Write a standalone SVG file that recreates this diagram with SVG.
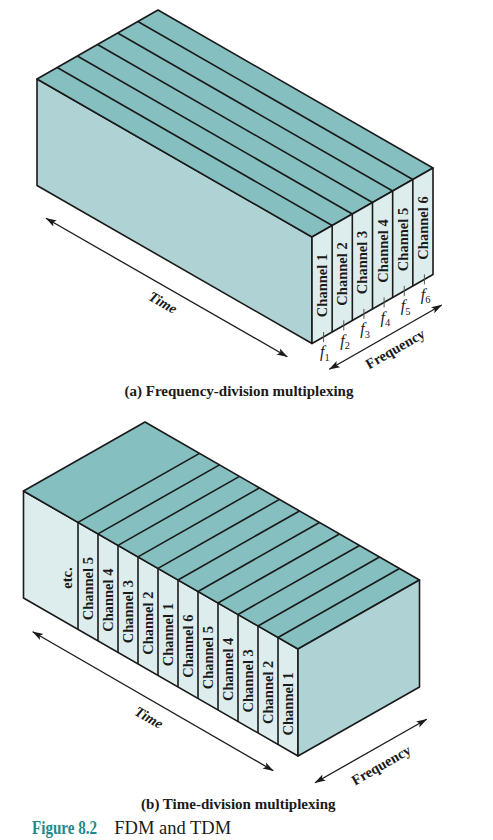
<svg xmlns="http://www.w3.org/2000/svg" width="493" height="840" viewBox="0 0 493 840">
<defs>
<style>
.top{fill:#85bfc0;stroke:#1a1a1a;stroke-width:1.6;stroke-linejoin:round}
.side{fill:#afd3d4;stroke:#1a1a1a;stroke-width:1.6;stroke-linejoin:round}
.light{fill:#ddeded;stroke:#1a1a1a;stroke-width:1.6;stroke-linejoin:round}
.ln{stroke:#1a1a1a;stroke-width:1.6;fill:none}
.tick{stroke:#555;stroke-width:1;fill:none}
.ch{font-family:"Liberation Serif","Times New Roman",serif;font-weight:bold;font-size:14.5px;fill:#1a1a1a;text-anchor:middle}
.ax{font-family:"Liberation Serif","Times New Roman",serif;font-weight:bold;font-size:14.5px;fill:#1a1a1a;text-anchor:middle}
.fl{font-family:"Liberation Serif","Times New Roman",serif;font-style:italic;font-size:16px;fill:#1a1a1a}
.cap{font-family:"Liberation Serif","Times New Roman",serif;font-weight:bold;font-size:15px;fill:#1a1a1a;text-anchor:middle}
.arr{stroke:#1a1a1a;stroke-width:1.3;fill:none;marker-start:url(#ah);marker-end:url(#ah)}
</style>
<marker id="ah" viewBox="0 0 11 8" refX="10.5" refY="4" markerWidth="11" markerHeight="8" markerUnits="userSpaceOnUse" orient="auto-start-reverse">
<path d="M0,0.5 L11,4 L0,7.5 L2.5,4 z" fill="#1a1a1a"/>
</marker>
</defs>

<g id="fdm-box">
<polygon class="side" points="37,79 312,237 312,343.5 37,185.5"/>
<polygon class="top" points="37,79 158,10 433,168 312,237"/>
<polygon class="light" points="312,237 433,168 433,274.5 312,343.5"/>
<g class="ln">
<line x1="332.17" y1="225.5" x2="57.17" y2="67.5"/>
<line x1="352.33" y1="214" x2="77.33" y2="56"/>
<line x1="372.5" y1="202.5" x2="97.5" y2="44.5"/>
<line x1="392.67" y1="191" x2="117.67" y2="33"/>
<line x1="412.83" y1="179.5" x2="137.83" y2="21.5"/>
<line x1="332.17" y1="225.5" x2="332.17" y2="332"/>
<line x1="352.33" y1="214" x2="352.33" y2="320.5"/>
<line x1="372.5" y1="202.5" x2="372.5" y2="309"/>
<line x1="392.67" y1="191" x2="392.67" y2="297.5"/>
<line x1="412.83" y1="179.5" x2="412.83" y2="286"/>
</g>
</g>

<g id="fdm-channels">
<g id="fdm-ch1"><text class="ch" transform="translate(322.1,285.5) rotate(-90)" y="5">Channel 1</text></g>
<g id="fdm-ch2"><text class="ch" transform="translate(342.3,274) rotate(-90)" y="5">Channel 2</text></g>
<g id="fdm-ch3"><text class="ch" transform="translate(362.4,262.5) rotate(-90)" y="5">Channel 3</text></g>
<g id="fdm-ch4"><text class="ch" transform="translate(382.6,251) rotate(-90)" y="5">Channel 4</text></g>
<g id="fdm-ch5"><text class="ch" transform="translate(402.8,239.5) rotate(-90)" y="5">Channel 5</text></g>
<g id="fdm-ch6"><text class="ch" transform="translate(422.9,228) rotate(-90)" y="5">Channel 6</text></g>
</g>

<g id="fdm-freq-marks">
<g class="tick">
<line x1="323.6" y1="332" x2="323.6" y2="342"/>
<line x1="343.75" y1="320.4" x2="343.75" y2="330.4"/>
<line x1="363.9" y1="308.9" x2="363.9" y2="318.9"/>
<line x1="384.1" y1="297.4" x2="384.1" y2="307.4"/>
<line x1="404.25" y1="285.9" x2="404.25" y2="295.9"/>
<line x1="424.4" y1="274.4" x2="424.4" y2="284.4"/>
</g>
<text class="fl" x="320" y="357.3">f<tspan font-size="10.5" font-style="normal" dy="3.5">1</tspan></text>
<text class="fl" x="340.2" y="345.8">f<tspan font-size="10.5" font-style="normal" dy="3.5">2</tspan></text>
<text class="fl" x="360.3" y="334.3">f<tspan font-size="10.5" font-style="normal" dy="3.5">3</tspan></text>
<text class="fl" x="380.5" y="322.8">f<tspan font-size="10.5" font-style="normal" dy="3.5">4</tspan></text>
<text class="fl" x="400.7" y="311.3">f<tspan font-size="10.5" font-style="normal" dy="3.5">5</tspan></text>
<text class="fl" x="420.8" y="299.8">f<tspan font-size="10.5" font-style="normal" dy="3.5">6</tspan></text>
</g>

<g id="tdm-box">
<polygon class="light" points="23.5,491 298,649 298,756 23.5,598"/>
<polygon class="top" points="23.5,491 145,422 419.5,580 298,649"/>
<polygon class="side" points="298,649 419.5,580 419.5,687 298,756"/>
<g class="ln">
<line x1="78" y1="522.37" x2="199.5" y2="453.37"/>
<line x1="98" y1="533.88" x2="219.5" y2="464.88"/>
<line x1="118" y1="545.39" x2="239.5" y2="476.39"/>
<line x1="138" y1="556.9" x2="259.5" y2="487.9"/>
<line x1="158" y1="568.42" x2="279.5" y2="499.42"/>
<line x1="178" y1="579.93" x2="299.5" y2="510.93"/>
<line x1="198" y1="591.44" x2="319.5" y2="522.44"/>
<line x1="218" y1="602.95" x2="339.5" y2="533.95"/>
<line x1="238" y1="614.46" x2="359.5" y2="545.46"/>
<line x1="258" y1="625.98" x2="379.5" y2="556.98"/>
<line x1="278" y1="637.49" x2="399.5" y2="568.49"/>
<line x1="78" y1="522.37" x2="78" y2="629.37"/>
<line x1="98" y1="533.88" x2="98" y2="640.88"/>
<line x1="118" y1="545.39" x2="118" y2="652.39"/>
<line x1="138" y1="556.9" x2="138" y2="663.9"/>
<line x1="158" y1="568.42" x2="158" y2="675.42"/>
<line x1="178" y1="579.93" x2="178" y2="686.93"/>
<line x1="198" y1="591.44" x2="198" y2="698.44"/>
<line x1="218" y1="602.95" x2="218" y2="709.95"/>
<line x1="238" y1="614.46" x2="238" y2="721.46"/>
<line x1="258" y1="625.98" x2="258" y2="732.98"/>
<line x1="278" y1="637.49" x2="278" y2="744.49"/>
</g>
</g>

<g id="tdm-slots">
<g id="tdm-etc"><text class="ch" transform="translate(66.7,578) rotate(-90)" y="5">etc.</text></g>
<g id="tdm-s1"><text class="ch" transform="translate(88,588.7) rotate(-90)" y="5">Channel 5</text></g>
<g id="tdm-s2"><text class="ch" transform="translate(108,600.2) rotate(-90)" y="5">Channel 4</text></g>
<g id="tdm-s3"><text class="ch" transform="translate(128,611.7) rotate(-90)" y="5">Channel 3</text></g>
<g id="tdm-s4"><text class="ch" transform="translate(148,623.2) rotate(-90)" y="5">Channel 2</text></g>
<g id="tdm-s5"><text class="ch" transform="translate(168,634.7) rotate(-90)" y="5">Channel 1</text></g>
<g id="tdm-s6"><text class="ch" transform="translate(188,646.2) rotate(-90)" y="5">Channel 6</text></g>
<g id="tdm-s7"><text class="ch" transform="translate(208,657.7) rotate(-90)" y="5">Channel 5</text></g>
<g id="tdm-s8"><text class="ch" transform="translate(228,669.3) rotate(-90)" y="5">Channel 4</text></g>
<g id="tdm-s9"><text class="ch" transform="translate(248,680.8) rotate(-90)" y="5">Channel 3</text></g>
<g id="tdm-s10"><text class="ch" transform="translate(268,692.3) rotate(-90)" y="5">Channel 2</text></g>
<g id="tdm-s11"><text class="ch" transform="translate(288,703.8) rotate(-90)" y="5">Channel 1</text></g>
</g>

<g id="connectors">
<line class="arr" x1="46" y1="218.3" x2="287.3" y2="356.7"/>
<line class="arr" x1="329.3" y1="369.3" x2="441.7" y2="305"/>
<line class="arr" x1="32.7" y1="631.7" x2="273.3" y2="770.7"/>
<line class="arr" x1="315" y1="782.7" x2="426.7" y2="719.3"/>
</g>

<g id="axis-labels">
<text class="ax" font-style="italic" transform="translate(163,302.5) rotate(29.9)" y="5">Time</text>
<text class="ax" transform="translate(395,348.7) rotate(-29.8)" y="5">Frequency</text>
<text class="ax" font-style="italic" transform="translate(149,717.5) rotate(29.9)" y="5">Time</text>
<text class="ax" transform="translate(381,765) rotate(-29.8)" y="5">Frequency</text>
</g>

<g id="captions">
<text class="cap" x="239" y="395.5">(a) Frequency-division multiplexing</text>
<text class="cap" x="238.3" y="809">(b) Time-division multiplexing</text>
<text x="32" y="834" font-family="'Liberation Serif','Times New Roman',serif" font-weight="bold" font-size="18" fill="#1d8a8a" textLength="65" lengthAdjust="spacingAndGlyphs">Figure 8.2</text>
<text x="114.3" y="834" font-family="'Liberation Serif','Times New Roman',serif" font-size="18.5" fill="#1a1a1a">FDM and TDM</text>
</g>
</svg>
